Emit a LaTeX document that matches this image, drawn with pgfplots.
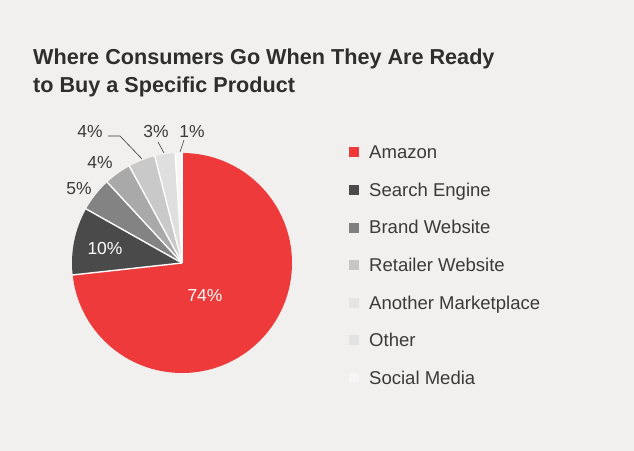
\documentclass[border=0pt]{standalone}
\usepackage{pgfplots}
\pgfplotsset{compat=1.18}
\usepackage{pgfplotstable}
\usepackage{fontspec}
\setmainfont{Liberation Sans}

\definecolor{bg}{HTML}{F1F0EE}
\definecolor{titlec}{HTML}{2E2E2E}
\definecolor{textc}{HTML}{3A3A3A}
% pie slice colours
\definecolor{s0}{HTML}{EE3A3A}
\definecolor{s1}{HTML}{4A4A4A}
\definecolor{s2}{HTML}{838383}
\definecolor{s3}{HTML}{A9A9A9}
\definecolor{s4}{HTML}{C9C9C9}
\definecolor{s5}{HTML}{DFDFDF}
\definecolor{s6}{HTML}{F6F6F6}
% legend colours
\definecolor{l0}{HTML}{EE3A3A}
\definecolor{l1}{HTML}{4A4A4A}
\definecolor{l2}{HTML}{808080}
\definecolor{l3}{HTML}{C6C6C6}
\definecolor{l4}{HTML}{E4E4E4}
\definecolor{l5}{HTML}{E2E2E2}
\definecolor{l6}{HTML}{F5F5F5}

\pgfplotstableread[col sep=comma]{
name,value
Amazon,74
Search Engine,10
Brand Website,5
Retailer Website,4
Another Marketplace,4
Other,3
Social Media,1
}\piedata

\begin{document}
\begin{tikzpicture}[x=1bp,y=1bp]
\fill[bg] (0,0) rectangle (634,451);
% totals and cumulative angles (clockwise from 12 o'clock)
\gdef\total{0}
\foreach \i in {0,...,6}{%
  \pgfplotstablegetelem{\i}{value}\of\piedata
  \pgfmathsetmacro\tmpsum{\total+\pgfplotsretval}%
  \xdef\total{\tmpsum}%
}
\gdef\cum{0}
\foreach \i in {0,...,6}{%
  \pgfplotstablegetelem{\i}{value}\of\piedata
  \pgfmathsetmacro\sa{90-\cum/\total*360}%
  \pgfmathsetmacro\nc{\cum+\pgfplotsretval}%
  \pgfmathsetmacro\sb{90-\nc/\total*360}%
  \expandafter\xdef\csname sliceA\i\endcsname{\sa}%
  \expandafter\xdef\csname sliceB\i\endcsname{\sb}%
  \xdef\cum{\nc}%
}
% title
\node[anchor=base west, inner sep=0, text=titlec, font=\fontsize{21.7}{28}\selectfont\bfseries] at (33,{451-65}) {Where Consumers Go When They Are Ready};
\node[anchor=base west, inner sep=0, text=titlec, font=\fontsize{21.7}{28}\selectfont\bfseries] at (33,{451-93}) {to Buy a Specific Product};

\begin{axis}[x=1bp, y=1bp, xmin=-110, xmax=110, ymin=-110, ymax=110,
  hide axis, anchor=origin, at={(182,188)}, clip=false]
\pgfplotsinvokeforeach{0,...,6}{%
  \fill[s#1] (axis cs:0,0) -- ++(\csname sliceA#1\endcsname:110bp)
    arc[start angle=\csname sliceA#1\endcsname, end angle=\csname sliceB#1\endcsname, radius=110bp] -- cycle;
}
\pgfplotsinvokeforeach{0,...,6}{%
  \draw[white, line width=1.4bp] (axis cs:0,0) -- ++(\csname sliceA#1\endcsname:110.5bp);
}
% labels inside
\node[text=white, font=\fontsize{17.5}{20}\selectfont] at (axis cs:23,-33) {74\%};
\node[text=white, font=\fontsize{17.5}{20}\selectfont] at (axis cs:-77,14) {10\%};
% labels outside
\begin{scope}[every node/.style={text=textc, font=\fontsize{17.5}{20}\selectfont}]
\node at (axis cs:-103,74) {5\%};
\node at (axis cs:-82,100) {4\%};
\node at (axis cs:-92,131) {4\%};
\node at (axis cs:-26,131) {3\%};
\node at (axis cs:10,131) {1\%};
\end{scope}
\draw[textc, line width=0.6bp] (axis cs:-74,127) -- (axis cs:-62,127) -- (axis cs:-40,104);
\draw[textc, line width=0.6bp] (axis cs:-24,121) -- (axis cs:-18,110);
\draw[textc, line width=0.6bp] (axis cs:2,123) -- (axis cs:-2,111);
\end{axis}

% legend
\foreach \n/\c [count=\k from 0] in {Amazon/l0, Search Engine/l1, Brand Website/l2, Retailer Website/l3, Another Marketplace/l4, Other/l5, Social Media/l6}{%
  \pgfmathsetmacro\yy{451-152.5-37.6*\k}
  \fill[\c] (348.5,\yy-5) rectangle ++(10,10);
  \node[anchor=base west, inner sep=0, text=textc, font=\fontsize{18.6}{20}\selectfont] at (369,\yy-6.3) {\n};
}
\pgfresetboundingbox
\path (0,0) rectangle (634,451);
\end{tikzpicture}
\end{document}
